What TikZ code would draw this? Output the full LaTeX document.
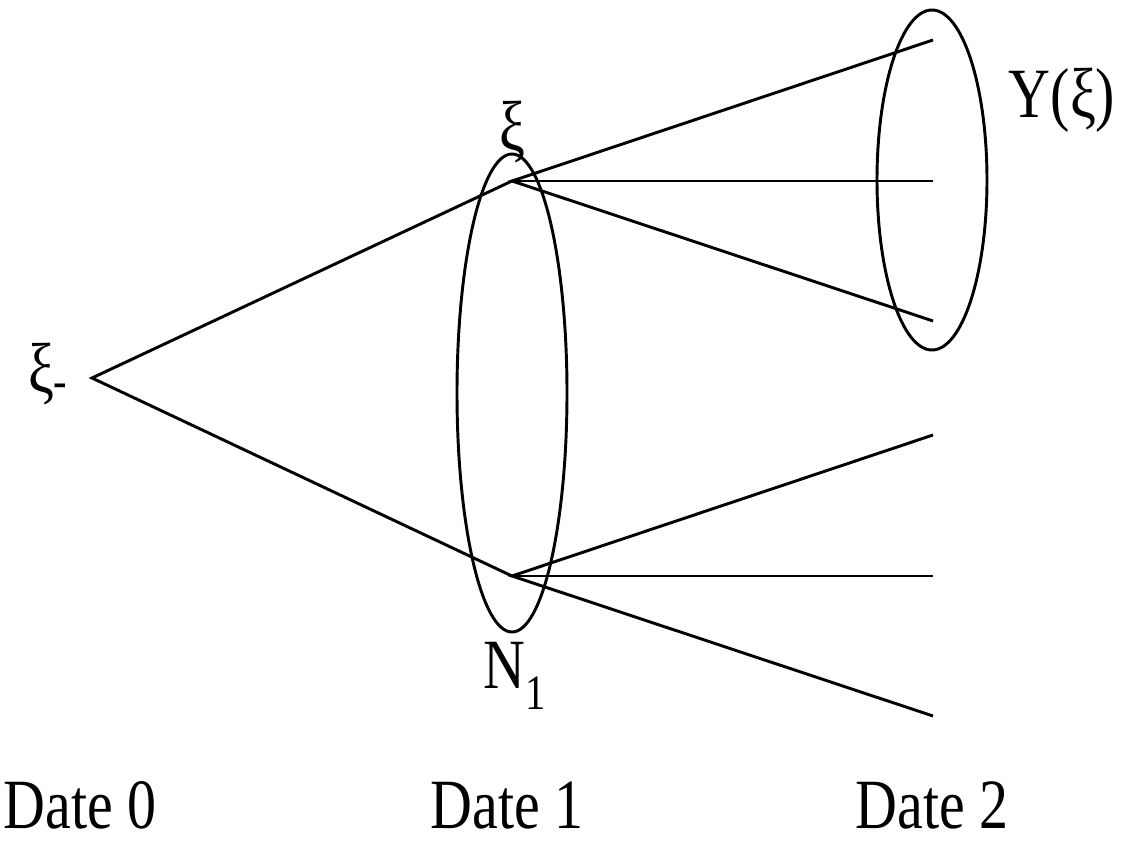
\documentclass[tikz,border=0pt]{standalone}
\usepackage{fontspec}
\setmainfont{Liberation Serif}
\begin{document}
\begin{tikzpicture}[x=0.75pt,y=-0.75pt,
  edge/.style={line width=2.2pt},
  ring/.style={line width=2.2pt},
  lab/.style={inner sep=0pt, font=\fontsize{53}{60}\selectfont, xscale=0.82, transform shape}]
\useasboundingbox (0,0) rectangle (1129,845);
% tree points
\coordinate (r) at (92,378);
\coordinate (u) at (512,181);
\coordinate (l) at (512,576);
\coordinate (u1) at (933,40);
\coordinate (u2) at (933,181);
\coordinate (u3) at (933,321);
\coordinate (l1) at (933,435);
\coordinate (l2) at (933,576);
\coordinate (l3) at (933,716);
% edges
\draw[edge] (u) -- (r) -- (l);
\draw[edge] (u1) -- (u) -- (u3);
\draw[edge] (u) -- (u2);
\draw[edge] (l1) -- (l) -- (l3);
\draw[edge] (l) -- (l2);
% ellipses
\draw[ring] (512,393) ellipse [x radius=55, y radius=239];
\draw[ring] (932,180) ellipse [x radius=55, y radius=170];
% labels
\node[lab] (xim) at (48,374) {ξ\textsubscript{-}};
\node[lab] (xi) at (512,132) {ξ};
\node[lab] (n1) at (515,676) {N\textsubscript{1}};
\node[lab] (yxi) at (1062,100) {Y(ξ)};
\node[lab, anchor=base] (d0) at (80,828) {Date 0};
\node[lab, anchor=base] (d1) at (507,828) {Date 1};
\node[lab, anchor=base] (d2) at (932,828) {Date 2};
\end{tikzpicture}
\end{document}
